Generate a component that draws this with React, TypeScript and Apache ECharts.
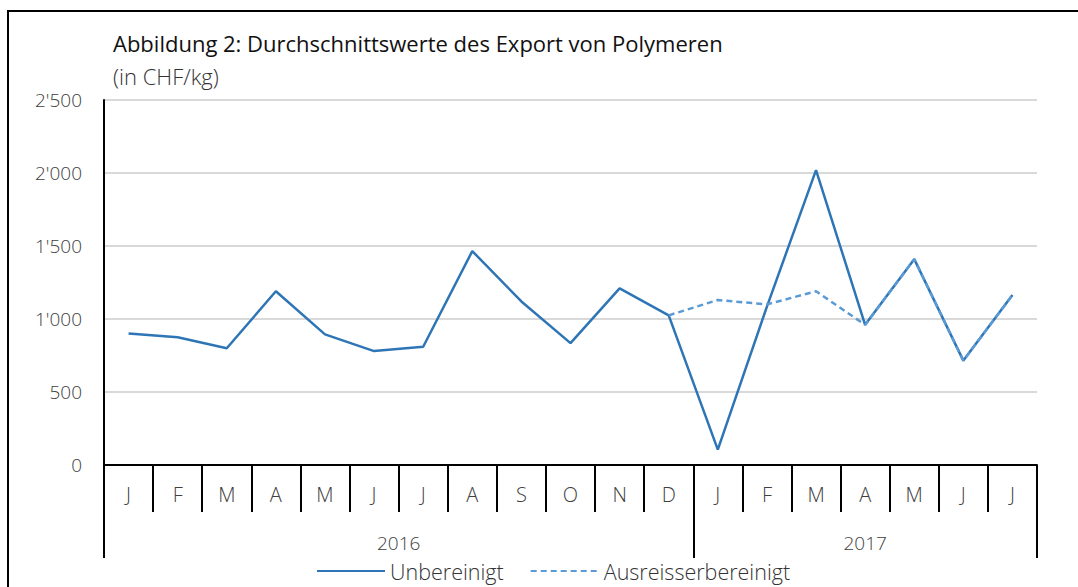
import React, { useEffect, useRef } from "react";
import * as echarts from "echarts";

const months = ["J", "F", "M", "A", "M", "J", "J", "A", "S", "O", "N", "D", "J", "F", "M", "A", "M", "J", "J"];
const years = ["2016", "2017"];
const unbereinigt = [900, 875, 800, 1190, 895, 780, 810, 1465, 1120, 835, 1210, 1025, 105, 1085, 2020, 960, 1410, 715, 1165];
const ausreisser = [null, null, null, null, null, null, null, null, null, null, null, 1025, 1130, 1100, 1190, 960, 1410, 715, 1165];
const yTicks = [0, 500, 1000, 1500, 2000, 2500];

// half-month positions for the year axis (boundaries between months)
const halfSteps = Array.from({ length: months.length * 2 + 1 }, (_, i) => String(i));
const yearStartHalf = [0, 24];
const yearEndHalf = months.length * 2;
const yearLabelHalf: Record<number, string> = { 12: years[0], 31: years[1] };

const FONT = "'Open Sans', Lato, sans-serif";

function fmt(v: number) {
  if (v >= 1000) return `${Math.floor(v / 1000)}'${String(v % 1000).padStart(3, "0")}`;
  return String(v);
}

export default function App() {
  const ref = useRef<HTMLDivElement>(null);
  useEffect(() => {
    if (!ref.current) return;
    const chart = echarts.init(ref.current, undefined, { renderer: "svg" });
    chart.setOption({
      animation: false,
      backgroundColor: "#fff",
      graphic: [
        {
          type: "rect",
          shape: { x: 8, y: 11, width: 1100, height: 600 },
          style: { fill: "none", stroke: "#000", lineWidth: 2 },
          silent: true,
        },
      ],
      title: [
        {
          text: "Abbildung 2: Durchschnittswerte des Export von Polymeren",
          left: 108,
          top: 27,
          textStyle: { fontFamily: FONT, fontSize: 22, fontWeight: "normal", color: "#111" },
        },
        {
          text: "(in CHF/kg)",
          left: 108,
          top: 60,
          textStyle: { fontFamily: FONT, fontSize: 22, fontWeight: 300, color: "#333" },
        },
      ],
      legend: {
        bottom: 0,
        left: 311,
        itemWidth: 68,
        itemGap: 26,
        itemStyle: { opacity: 0 },
        textStyle: { fontFamily: FONT, fontSize: 21.5, fontWeight: 300, color: "#333" },
        data: ["Unbereinigt", "Ausreisserbereinigt"],
      },
      grid: { left: 104, right: 41, top: 100, bottom: 122, containLabel: false },
      xAxis: [
        {
          type: "category",
          data: months,
          boundaryGap: true,
          axisLine: { show: true, lineStyle: { color: "#000", width: 2 } },
          axisTick: { show: true, interval: 0, length: 47, lineStyle: { color: "#000", width: 2 } },
          axisLabel: { interval: 0, margin: 19, fontFamily: FONT, fontSize: 20, fontWeight: 300, color: "#404040" },
        },
        {
          type: "category",
          data: halfSteps,
          boundaryGap: false,
          position: "bottom",
          offset: 47,
          axisLine: { show: false },
          axisTick: {
            show: true,
            length: 46,
            interval: (i: number) => yearStartHalf.includes(i) || i === yearEndHalf,
            lineStyle: { color: "#000", width: 2 },
          },
          axisLabel: {
            interval: (i: number) => yearLabelHalf[i] !== undefined,
            formatter: (_v: string, i: number) => yearLabelHalf[i] ?? "",
            margin: 21,
            fontFamily: FONT,
            fontSize: 19,
            fontWeight: 300,
            color: "#404040",
          },
        },
      ],
      yAxis: {
        type: "value",
        min: yTicks[0],
        max: yTicks[yTicks.length - 1],
        interval: 500,
        axisLine: { show: true, lineStyle: { color: "#000", width: 2 } },
        axisTick: { show: false },
        splitLine: { lineStyle: { color: "#d9d9d9", width: 2 } },
        axisLabel: { margin: 22, formatter: fmt, fontFamily: FONT, fontSize: 19, fontWeight: 300, color: "#404040" },
      },
      series: [
        {
          name: "Unbereinigt",
          type: "line",
          data: unbereinigt,
          symbol: "none",
          color: "#2e75b6",
          lineStyle: { color: "#2e75b6", width: 2.5 },
        },
        {
          name: "Ausreisserbereinigt",
          type: "line",
          data: ausreisser,
          symbol: "none",
          color: "#5b9bd5",
          lineStyle: { color: "#5b9bd5", width: 2.5, type: [6, 4] },
        },
      ],
    });
    return () => chart.dispose();
  }, []);
  return <div ref={ref} style={{ position: "fixed", left: 0, top: 0, width: 1078, height: 587 }} />;
}
